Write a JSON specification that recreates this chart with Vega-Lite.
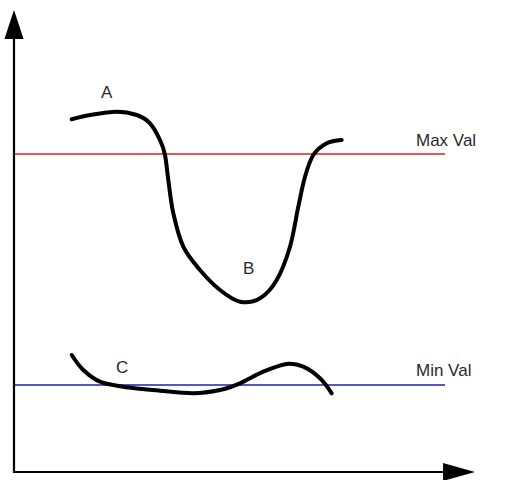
{
  "$schema": "https://vega.github.io/schema/vega-lite/v6.json",
  "width": 511,
  "height": 480,
  "padding": 0,
  "autosize": {"type": "fit", "contains": "padding"},
  "background": "white",
  "config": {"view": {"stroke": null}},
  "datasets": {
    "curves": [
      {"s": "A", "o": 1, "x": 71.7, "y": 119.3},
      {"s": "A", "o": 2, "x": 90, "y": 115},
      {"s": "A", "o": 3, "x": 116.7, "y": 111.7},
      {"s": "A", "o": 4, "x": 136.7, "y": 115},
      {"s": "A", "o": 5, "x": 150, "y": 123.3},
      {"s": "A", "o": 6, "x": 160, "y": 140},
      {"s": "A", "o": 7, "x": 165, "y": 155},
      {"s": "A", "o": 8, "x": 168.3, "y": 180},
      {"s": "A", "o": 9, "x": 173.3, "y": 213.3},
      {"s": "A", "o": 10, "x": 183.3, "y": 246.7},
      {"s": "A", "o": 11, "x": 200, "y": 270},
      {"s": "A", "o": 12, "x": 220, "y": 290},
      {"s": "A", "o": 13, "x": 240, "y": 301.7},
      {"s": "A", "o": 14, "x": 260, "y": 298.3},
      {"s": "A", "o": 15, "x": 276.7, "y": 280},
      {"s": "A", "o": 16, "x": 290, "y": 246.7},
      {"s": "A", "o": 17, "x": 298.3, "y": 206.7},
      {"s": "A", "o": 18, "x": 305, "y": 176.7},
      {"s": "A", "o": 19, "x": 313.3, "y": 155},
      {"s": "A", "o": 20, "x": 326.7, "y": 143.3},
      {"s": "A", "o": 21, "x": 341.7, "y": 140},
      {"s": "C", "o": 1, "x": 71.7, "y": 355},
      {"s": "C", "o": 2, "x": 83.3, "y": 370},
      {"s": "C", "o": 3, "x": 100, "y": 381.7},
      {"s": "C", "o": 4, "x": 123.3, "y": 386.7},
      {"s": "C", "o": 5, "x": 160, "y": 390.7},
      {"s": "C", "o": 6, "x": 193.3, "y": 393.3},
      {"s": "C", "o": 7, "x": 220, "y": 390},
      {"s": "C", "o": 8, "x": 240, "y": 383.3},
      {"s": "C", "o": 9, "x": 263.3, "y": 371.7},
      {"s": "C", "o": 10, "x": 286.7, "y": 364},
      {"s": "C", "o": 11, "x": 303.3, "y": 366.7},
      {"s": "C", "o": 12, "x": 320, "y": 378.3},
      {"s": "C", "o": 13, "x": 331.7, "y": 393.3}
    ],
    "limits": [
      {"name": "Max Val", "x": 14, "x2": 445, "y": 154, "c": "#d62020"},
      {"name": "Min Val", "x": 14, "x2": 445, "y": 385, "c": "#2020b0"}
    ],
    "axes": [
      {"x": 14, "y": 36, "x2": 14, "y2": 473},
      {"x": 13, "y": 472, "x2": 446, "y2": 472}
    ],
    "labels": [
      {"t": "A", "x": 101, "y": 93},
      {"t": "B", "x": 243, "y": 269},
      {"t": "C", "x": 116, "y": 368},
      {"t": "Max Val", "x": 416, "y": 141},
      {"t": "Min Val", "x": 416, "y": 371}
    ],
    "arrowUp": [{"x": 14, "y": 24.5}],
    "arrowRight": [{"x": 459, "y": 472}]
  },
  "layer": [
    {
      "data": {"name": "limits"},
      "mark": {"type": "rule", "strokeWidth": 1.6},
      "encoding": {
        "x": {"field": "x", "type": "quantitative", "scale": {"domain": [0, 511], "range": [0, 511], "nice": false, "zero": false}, "axis": null},
        "x2": {"field": "x2"},
        "y": {"field": "y", "type": "quantitative", "scale": {"domain": [0, 480], "range": [0, 480], "nice": false, "zero": false}, "axis": null},
        "color": {"field": "c", "type": "nominal", "scale": null, "legend": null}
      }
    },
    {
      "data": {"name": "curves"},
      "mark": {"type": "line", "interpolate": "cardinal", "strokeWidth": 4, "color": "black", "strokeCap": "round", "strokeJoin": "round"},
      "encoding": {
        "x": {"field": "x", "type": "quantitative"},
        "y": {"field": "y", "type": "quantitative"},
        "detail": {"field": "s"},
        "order": {"field": "o", "type": "quantitative"}
      }
    },
    {
      "data": {"name": "axes"},
      "mark": {"type": "rule", "strokeWidth": 2.2, "color": "black"},
      "encoding": {
        "x": {"field": "x", "type": "quantitative"},
        "y": {"field": "y", "type": "quantitative"},
        "x2": {"field": "x2"},
        "y2": {"field": "y2"}
      }
    },
    {
      "data": {"name": "arrowUp"},
      "mark": {"type": "point", "filled": true, "opacity": 1, "color": "black", "shape": "M0,-1L0.66,1L-0.66,1Z", "size": 841},
      "encoding": {
        "x": {"field": "x", "type": "quantitative"},
        "y": {"field": "y", "type": "quantitative"}
      }
    },
    {
      "data": {"name": "arrowRight"},
      "mark": {"type": "point", "filled": true, "opacity": 1, "color": "black", "shape": "M1,0L-1,-0.56L-1,0.56Z", "size": 1024},
      "encoding": {
        "x": {"field": "x", "type": "quantitative"},
        "y": {"field": "y", "type": "quantitative"}
      }
    },
    {
      "data": {"name": "labels"},
      "mark": {"type": "text", "font": "Liberation Sans", "fontSize": 17, "color": "#2a2a2a", "align": "left", "baseline": "middle"},
      "encoding": {
        "x": {"field": "x", "type": "quantitative"},
        "y": {"field": "y", "type": "quantitative"},
        "text": {"field": "t"}
      }
    }
  ]
}
